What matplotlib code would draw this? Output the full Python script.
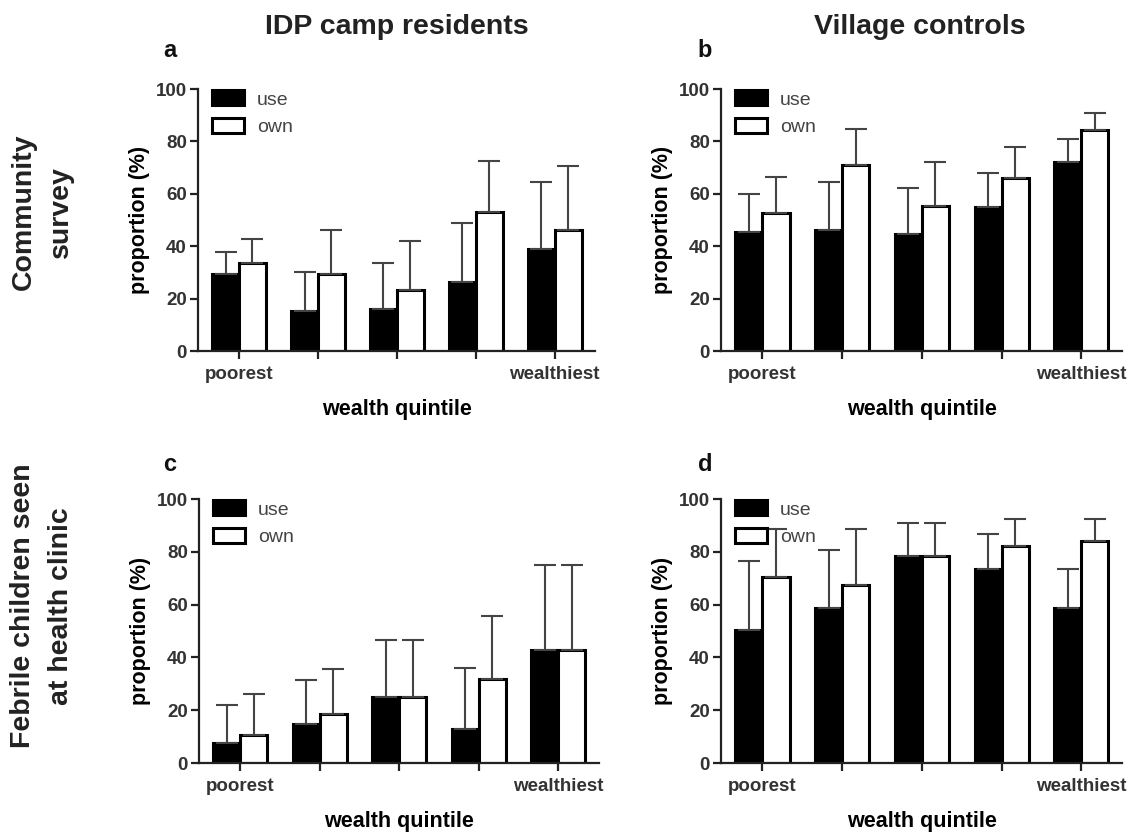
import numpy as np
import matplotlib
matplotlib.use('Agg')
import matplotlib.pyplot as plt

plt.rcParams['font.family'] = ['Liberation Sans', 'DejaVu Sans']

quintiles = ['poorest', '', '', '', 'wealthiest']
series = ['use', 'own']

# a: IDP camp, community survey
a_use = [29.5, 15.2, 16.0, 26.5, 39.0]
a_own = [33.5, 29.2, 23.2, 53.0, 46.3]
a_use_hi = [37.8, 30.0, 33.5, 48.7, 64.5]
a_own_hi = [42.6, 46.0, 42.0, 72.6, 70.8]

# b: village controls, community survey
b_use = [45.3, 46.0, 44.6, 54.8, 72.0]
b_own = [52.6, 70.9, 55.5, 65.9, 84.3]
b_use_hi = [60.0, 64.4, 62.4, 68.1, 80.9]
b_own_hi = [66.4, 84.8, 72.3, 77.7, 91.0]

# c: IDP camp, febrile children at clinic
c_use = [7.6, 14.9, 25.0, 12.9, 42.9]
c_own = [10.5, 18.6, 25.0, 31.8, 42.9]
c_use_hi = [22.0, 31.4, 46.7, 36.0, 74.9]
c_own_hi = [26.3, 35.6, 46.7, 55.7, 74.9]

# d: village controls, febrile children at clinic
d_use = [50.4, 58.6, 78.5, 73.5, 58.6]
d_own = [70.3, 67.3, 78.5, 82.1, 84.2]
d_use_hi = [76.4, 80.6, 91.0, 86.9, 73.5]
d_own_hi = [88.8, 88.8, 91.0, 92.4, 92.4]


def draw_panel(ax, use, own, use_hi, own_hi):
    x = np.arange(len(use))
    w = 0.34
    use = np.array(use)
    own = np.array(own)
    ax.bar(x - w/2, use, w, color='black', edgecolor='black',
           linewidth=2.2, label=series[0], zorder=2)
    ax.bar(x + w/2, own, w, color='white', edgecolor='black',
           linewidth=2.2, label=series[1], zorder=2)
    for xs, v, hi in [(x - w/2, use, use_hi), (x + w/2, own, own_hi)]:
        ax.errorbar(xs, v, yerr=[np.zeros(len(v)), np.array(hi) - v],
                    fmt='none', ecolor='#444444', elinewidth=1.5,
                    capsize=8, capthick=1.5, zorder=3)

    ax.set_xlim(-0.52, 4.51)
    ax.set_ylim(0, 100)
    ax.set_yticks(range(0, 101, 20))
    ax.set_xticks(x)
    ax.set_xticklabels(quintiles)
    for s in ['top', 'right']:
        ax.spines[s].set_visible(False)
    for s in ['left', 'bottom']:
        ax.spines[s].set_linewidth(1.6)
        ax.spines[s].set_color('#222222')
    ax.tick_params(axis='both', direction='out', length=6, width=1.6,
                   color='#222222', labelcolor='#333333', labelsize=13.5)
    ax.tick_params(axis='x', pad=5)
    ax.tick_params(axis='y', pad=2)
    for lab in ax.get_xticklabels() + ax.get_yticklabels():
        lab.set_fontweight('bold')
    ax.set_ylabel('proportion (%)', fontsize=15.5, fontweight='bold', labelpad=4)
    ax.set_xlabel('wealth quintile', fontsize=15.5, fontweight='bold', labelpad=11)
    leg = ax.legend(loc='upper left', bbox_to_anchor=(0.035, 0.995), frameon=False,
                    fontsize=14, handlelength=1.65, handleheight=0.8,
                    handletextpad=0.67, labelspacing=0.5, borderpad=0,
                    borderaxespad=0)
    for t in leg.get_texts():
        t.set_color('#444444')


fig = plt.figure(figsize=(11.34, 8.34), dpi=100)
W, H = 1134, 834

ax_a = fig.add_axes([198/W, 1 - 351/H, 397/W, 262/H])
ax_b = fig.add_axes([721/W, 1 - 351/H, 401/W, 262/H])
ax_c = fig.add_axes([199/W, 1 - 763/H, 400/W, 264/H])
ax_d = fig.add_axes([721/W, 1 - 763/H, 401/W, 264/H])

draw_panel(ax_a, a_use, a_own, a_use_hi, a_own_hi)
draw_panel(ax_b, b_use, b_own, b_use_hi, b_own_hi)
draw_panel(ax_c, c_use, c_own, c_use_hi, c_own_hi)
draw_panel(ax_d, d_use, d_own, d_use_hi, d_own_hi)

fig.text(397/W, 1 - 34/H, 'IDP camp residents', ha='center', va='baseline',
         fontsize=20.5, fontweight='bold', color='#222222')
fig.text(920/W, 1 - 34/H, 'Village controls', ha='center', va='baseline',
         fontsize=20.5, fontweight='bold', color='#222222')

for lbl, px, py in [('a', 170, 57), ('b', 705, 57), ('c', 170, 471), ('d', 705, 471)]:
    fig.text(px/W, 1 - py/H, lbl, ha='center', va='baseline',
             fontsize=17, fontweight='bold', color='#111111')

fig.text(42/W, 1 - 212/H, 'Community\nsurvey', rotation=90, ha='center',
         va='center', fontsize=20.5, fontweight='bold', linespacing=1.55,
         multialignment='center', color='#222222')
fig.text(42/W, 1 - 606/H, 'Febrile children seen\nat health clinic', rotation=90,
         ha='center', va='center', fontsize=20.5, fontweight='bold',
         linespacing=1.55, multialignment='center', color='#222222')

fig.savefig('out.png', dpi=100)
